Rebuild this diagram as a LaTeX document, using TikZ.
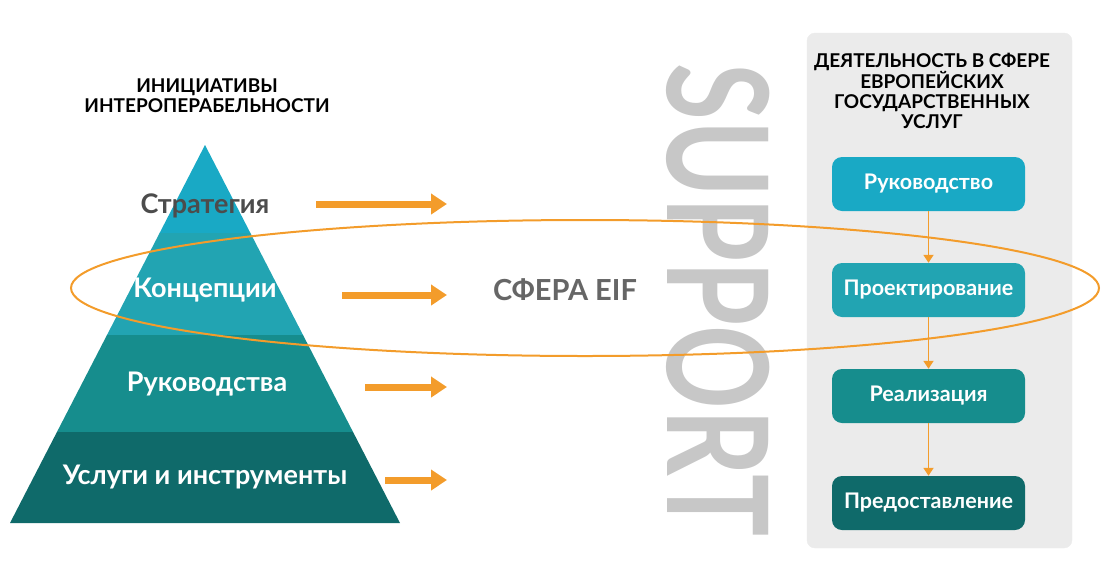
\documentclass[tikz,border=0pt]{standalone}
\usepackage{fontspec}
\setmainfont{Lato}
\usetikzlibrary{arrows.meta}
\definecolor{orng}{HTML}{F39C2B}
\definecolor{tA}{HTML}{19A9C5}
\definecolor{tB}{HTML}{22A4B2}
\definecolor{tC}{HTML}{168D8D}
\definecolor{tD}{HTML}{0F6A6A}
\begin{document}
\begin{tikzpicture}[x=1pt,y=-1pt,
  bigarrow/.style={orng,line width=7pt,-{Triangle[length=16pt,width=20pt]}},
  smallarrow/.style={orng,line width=1.8pt,-{Triangle[length=8pt,width=10pt]}},
  lvl/.style={font=\bfseries\fontsize{27}{30}\selectfont,text=white},
  boxs/.style={rounded corners=10pt,minimum width=193pt,minimum height=54pt,text=white,font=\bfseries\fontsize{21.5}{24}\selectfont},
  ttl/.style={font=\bfseries\fontsize{19}{20}\selectfont,align=center}]
\useasboundingbox (0,0) rectangle (1110,568);
% pyramid bands
\def\hw#1{(#1-145)/378*195}
\fill[tA] (205,145) -- ({205+\hw{233}},233) -- ({205-\hw{233}},233) -- cycle;
\fill[tB] ({205-\hw{233}},233) -- ({205+\hw{233}},233) -- ({205+\hw{335}},335) -- ({205-\hw{335}},335) -- cycle;
\fill[tC] ({205-\hw{335}},335) -- ({205+\hw{335}},335) -- ({205+\hw{432}},432) -- ({205-\hw{432}},432) -- cycle;
\fill[tD] ({205-\hw{432}},432) -- ({205+\hw{432}},432) -- (400,523) -- (10,523) -- cycle;
\node[ttl] (pt) at (207,96) {ИНИЦИАТИВЫ\\ИНТЕРОПЕРАБЕЛЬНОСТИ};
\node[lvl,text=black!70] (l1) at (205,206) {Стратегия};
\node[lvl] (l2) at (205,290) {Концепции};
\node[lvl] (l3) at (207,384) {Руководства};
\node[lvl] (l4) at (205,477) {Услуги и инструменты};
% arrows
\coordinate (a1s) at (316,204); \coordinate (a1e) at (447,204);
\coordinate (a2s) at (342,295); \coordinate (a2e) at (447,295);
\coordinate (a3s) at (365,387); \coordinate (a3e) at (447,387);
\coordinate (a4s) at (385,480); \coordinate (a4e) at (447,480);
\draw[bigarrow] (a1s) -- (a1e);
\draw[bigarrow] (a2s) -- (a2e);
\draw[bigarrow] (a3s) -- (a3e);
\draw[bigarrow] (a4s) -- (a4e);
\node[font=\bfseries\fontsize{29}{32}\selectfont,text=black!60] (eif) at (565,290) {СФЕРА EIF};
% support
\node[rotate=-90,text=black!22,font=\bfseries\fontsize{140}{140}\selectfont,inner sep=0pt] (sup) at (718,300) {\scalebox{0.74}[1]{SUPPORT}};
% panel
\draw[black!8,fill=black!8,rounded corners=8pt] (807,33) rectangle (1072,548);
\draw[orng,line width=2pt] (585,288) ellipse [x radius=514, y radius=68];
\node[ttl] (rt) at (932,91) {ДЕЯТЕЛЬНОСТЬ В СФЕРЕ\\ЕВРОПЕЙСКИХ\\ГОСУДАРСТВЕННЫХ\\УСЛУГ};
\node[boxs,fill=tA] (b1) at (928.5,184) {Руководство};
\node[boxs,fill=tB] (b2) at (928.5,290) {Проектирование};
\node[boxs,fill=tC] (b3) at (928.5,396) {Реализация};
\node[boxs,fill=tD] (b4) at (928.5,503) {Предоставление};
\draw[smallarrow] (b1) -- (b2);
\draw[smallarrow] (b2) -- (b3);
\draw[smallarrow] (b3) -- (b4);
\end{tikzpicture}
\end{document}
